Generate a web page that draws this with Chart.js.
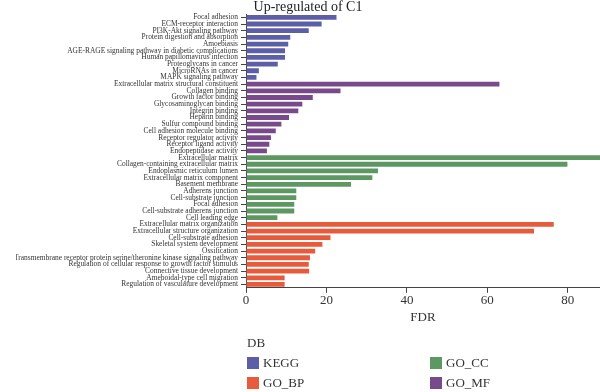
<!DOCTYPE html>
<html><head><meta charset="utf-8">
<script src="https://cdn.jsdelivr.net/npm/chart.js@4.4.1/dist/chart.umd.min.js"></script>
<style>html,body{margin:0;padding:0;background:#fff;overflow:hidden}#wrap{width:600px;height:392px;position:relative}</style>
</head><body><div id="wrap"><canvas id="c" width="600" height="392"></canvas></div>
<script>
const keggLabels = ["Focal adhesion","ECM-receptor interaction","PI3K-Akt signaling pathway","Protein digestion and absorption","Amoebiasis","AGE-RAGE signaling pathway in diabetic complications","Human papillomavirus infection","Proteoglycans in cancer","MicroRNAs in cancer","MAPK signaling pathway"];
const keggValues = [22.5,18.8,15.6,11.0,10.5,9.7,9.7,7.9,3.2,2.6];
const mfLabels = ["Extracellular matrix structural constituent","Collagen binding","Growth factor binding","Glycosaminoglycan binding","Integrin binding","Heparin binding","Sulfur compound binding","Cell adhesion molecule binding","Receptor regulator activity","Receptor ligand activity","Endopeptidase activity"];
const mfValues = [63.0,23.5,16.6,14.0,13.0,10.7,8.8,7.4,6.2,5.8,5.2];
const ccLabels = ["Extracellular matrix","Collagen-containing extracellular matrix","Endoplasmic reticulum lumen","Extracellular matrix component","Basement membrane","Adherens junction","Cell-substrate junction","Focal adhesion","Cell-substrate adherens junction","Cell leading edge"];
const ccValues = [88.0,79.9,32.8,31.4,26.1,12.5,12.5,12.0,12.0,7.8];
const bpLabels = ["Extracellular matrix organization","Extracellular structure organization","Cell-substrate adhesion","Skeletal system development","Ossification","Transmembrane receptor protein serine/theronine kinase signaling pathway","Regulation of cellular response to growth factor stimulus","Connective tissue development","Ameboidal-type cell migration","Regulation of vasculature development"];
const bpValues = [76.5,71.6,21.0,19.0,17.2,15.9,15.6,15.7,9.6,9.6];
const xTicks = [0,20,40,60,80];

const groups = [
  {name:"KEGG", labels:keggLabels, values:keggValues, color:"#5c5fa7"},
  {name:"GO_MF", labels:mfLabels, values:mfValues, color:"#784a8b"},
  {name:"GO_CC", labels:ccLabels, values:ccValues, color:"#5d9862"},
  {name:"GO_BP", labels:bpLabels, values:bpValues, color:"#e85a3c"}
];
const allLabels = [].concat(...groups.map(g=>g.labels));
let offset = 0;
const datasets = groups.map(g=>{
  const data = new Array(allLabels.length).fill(null);
  g.values.forEach((v,i)=>{data[offset+i]=v;});
  offset += g.values.length;
  return {label:g.name, data, backgroundColor:g.color, borderWidth:0, barPercentage:0.72, categoryPercentage:1.0};
});
const legendOrder = ["KEGG","GO_CC","GO_BP","GO_MF"];
const FONT = "'Liberation Serif', 'Times New Roman', serif";

const legendPlugin = {
  id:'dbLegend',
  afterDraw(chart){
    const ctx = chart.ctx;
    ctx.save();
    ctx.font = "13px " + FONT;
    ctx.fillStyle = "#333";
    ctx.textBaseline = "middle";
    ctx.textAlign = "left";
    ctx.fillText("DB", 247, 344);
    const cols=[247,430], rows=[363,383];
    legendOrder.forEach((name,i)=>{
      const ds = chart.data.datasets.find(d=>d.label===name);
      const x = cols[i%2], y = rows[Math.floor(i/2)];
      ctx.fillStyle = ds.backgroundColor;
      ctx.fillRect(x, y-6, 12, 12);
      ctx.fillStyle = "#333";
      ctx.fillText(name, x+16, y+0.5);
    });
    ctx.restore();
  }
};

new Chart(document.getElementById('c'), {
  type:'bar',
  data:{labels:allLabels, datasets},
  options:{
    indexAxis:'y',
    responsive:false,
    animation:false,
    devicePixelRatio:1,
    layout:{padding:{left:16,right:0,top:0,bottom:63}},
    plugins:{
      legend:{display:false},
      tooltip:{enabled:false},
      title:{display:true,text:"Up-regulated of C1",color:"#222",font:{family:FONT,size:14,weight:'normal',lineHeight:1},padding:{top:0,bottom:0}}
    },
    scales:{
      y:{
        type:'category',
        offset:true,
        stacked:false,
        grid:{drawOnChartArea:false,drawTicks:true,tickLength:5,color:'#444',offset:false},
        border:{display:true,color:'#444',width:1},
        ticks:{autoSkip:false,color:'#333',font:{family:FONT,size:7.45},padding:3},
        afterFit(s){s.width=230;}
      },
      x:{
        type:'linear',
        min:0,max:88,
        grid:{drawOnChartArea:false,drawTicks:true,tickLength:5,color:'#444'},
        border:{display:true,color:'#444',width:1},
        afterBuildTicks(s){s.ticks = xTicks.map(v=>({value:v}));},
        ticks:{color:'#333',font:{family:FONT,size:13},padding:0},
        title:{display:true,text:'FDR',color:'#333',font:{family:FONT,size:13},padding:{top:1,bottom:4}}
      }
    },
    datasets:{bar:{grouped:false}}
  },
  plugins:[legendPlugin]
});
</script>
</body></html>
